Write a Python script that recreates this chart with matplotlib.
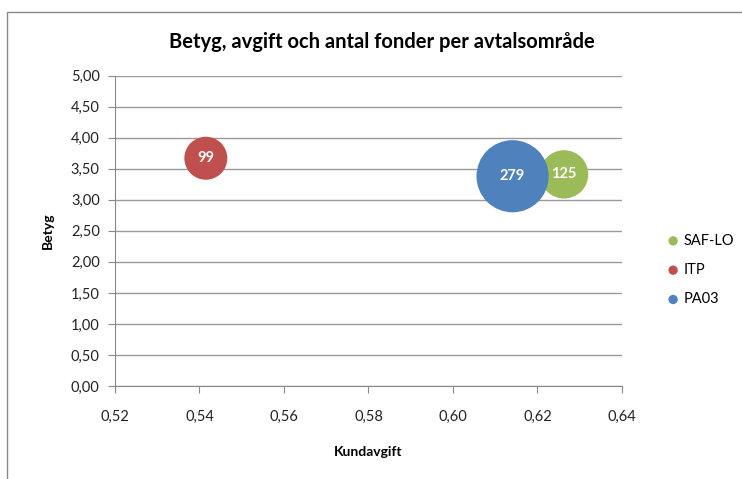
import matplotlib
matplotlib.use("Agg")
import matplotlib.pyplot as plt
from matplotlib.patches import Rectangle
from matplotlib.ticker import FuncFormatter, MultipleLocator

plt.rcParams['font.family'] = ['Lato', 'DejaVu Sans']

series = ["SAF-LO", "ITP", "PA03"]
kundavgift = [0.6263, 0.5415, 0.6141]
betyg = [3.41, 3.67, 3.38]
antal_fonder = [125, 99, 279]
colors = ["#9BBB59", "#C0504D", "#4F81BD"]

fig = plt.figure(figsize=(7.42, 4.79), dpi=100)
fig.patches.append(Rectangle((7/742, -0.1), 2.0, (479-12)/479 + 0.1, transform=fig.transFigure,
                             fill=False, edgecolor="#888888", linewidth=1.0))
ax = fig.add_axes([115/742, (479-386)/479, (622-115)/742, (386-75.7)/479])

scale = 2700 / 279
for name, x, y, n, c in zip(series, kundavgift, betyg, antal_fonder, colors):
    ax.scatter([x], [y], s=n * scale, color=c, edgecolors="none", label=name, zorder=3)
    ax.text(x, y, str(n), color="white", fontweight="bold", fontsize=10.5,
            ha="center", va="center", zorder=4)

ax.set_xlim(0.52, 0.64)
ax.set_ylim(0, 5)
ax.xaxis.set_major_locator(MultipleLocator(0.02))
ax.yaxis.set_major_locator(MultipleLocator(0.5))
ax.xaxis.set_major_formatter(FuncFormatter(lambda v, p: f"{v:.2f}".replace(".", ",")))
ax.yaxis.set_major_formatter(FuncFormatter(lambda v, p: f"{v:.2f}".replace(".", ",")))
ax.grid(axis="y", color="#999999", linewidth=1.0, zorder=0)
ax.set_axisbelow(True)
for s in ["top", "right"]:
    ax.spines[s].set_visible(False)
for s in ["left", "bottom"]:
    ax.spines[s].set_color("#888888")
ax.tick_params(axis="both", direction="out", length=5, color="#888888", labelsize=10.5,
               labelcolor="#222222")
ax.tick_params(axis="x", pad=12)
ax.tick_params(axis="y", pad=6)
ax.set_xlabel("Kundavgift", fontweight="bold", fontsize=10, labelpad=16)
ax.set_ylabel("Betyg", fontweight="bold", fontsize=10, labelpad=12)

fig.text(382/742, 1 - 42/479, "Betyg, avgift och antal fonder per avtalsområde",
         ha="center", va="center", fontsize=14.5, fontweight="bold")

leg = ax.legend(loc="center left", bbox_to_anchor=(668/742, (479-270)/479),
                bbox_transform=fig.transFigure, frameon=False, fontsize=10.5,
                markerscale=1, labelspacing=1.05, handletextpad=0.35, handlelength=0.7,
                borderpad=0, borderaxespad=0)
for h in leg.legend_handles:
    h.set_sizes([45])

fig.savefig("out.png", dpi=100)
